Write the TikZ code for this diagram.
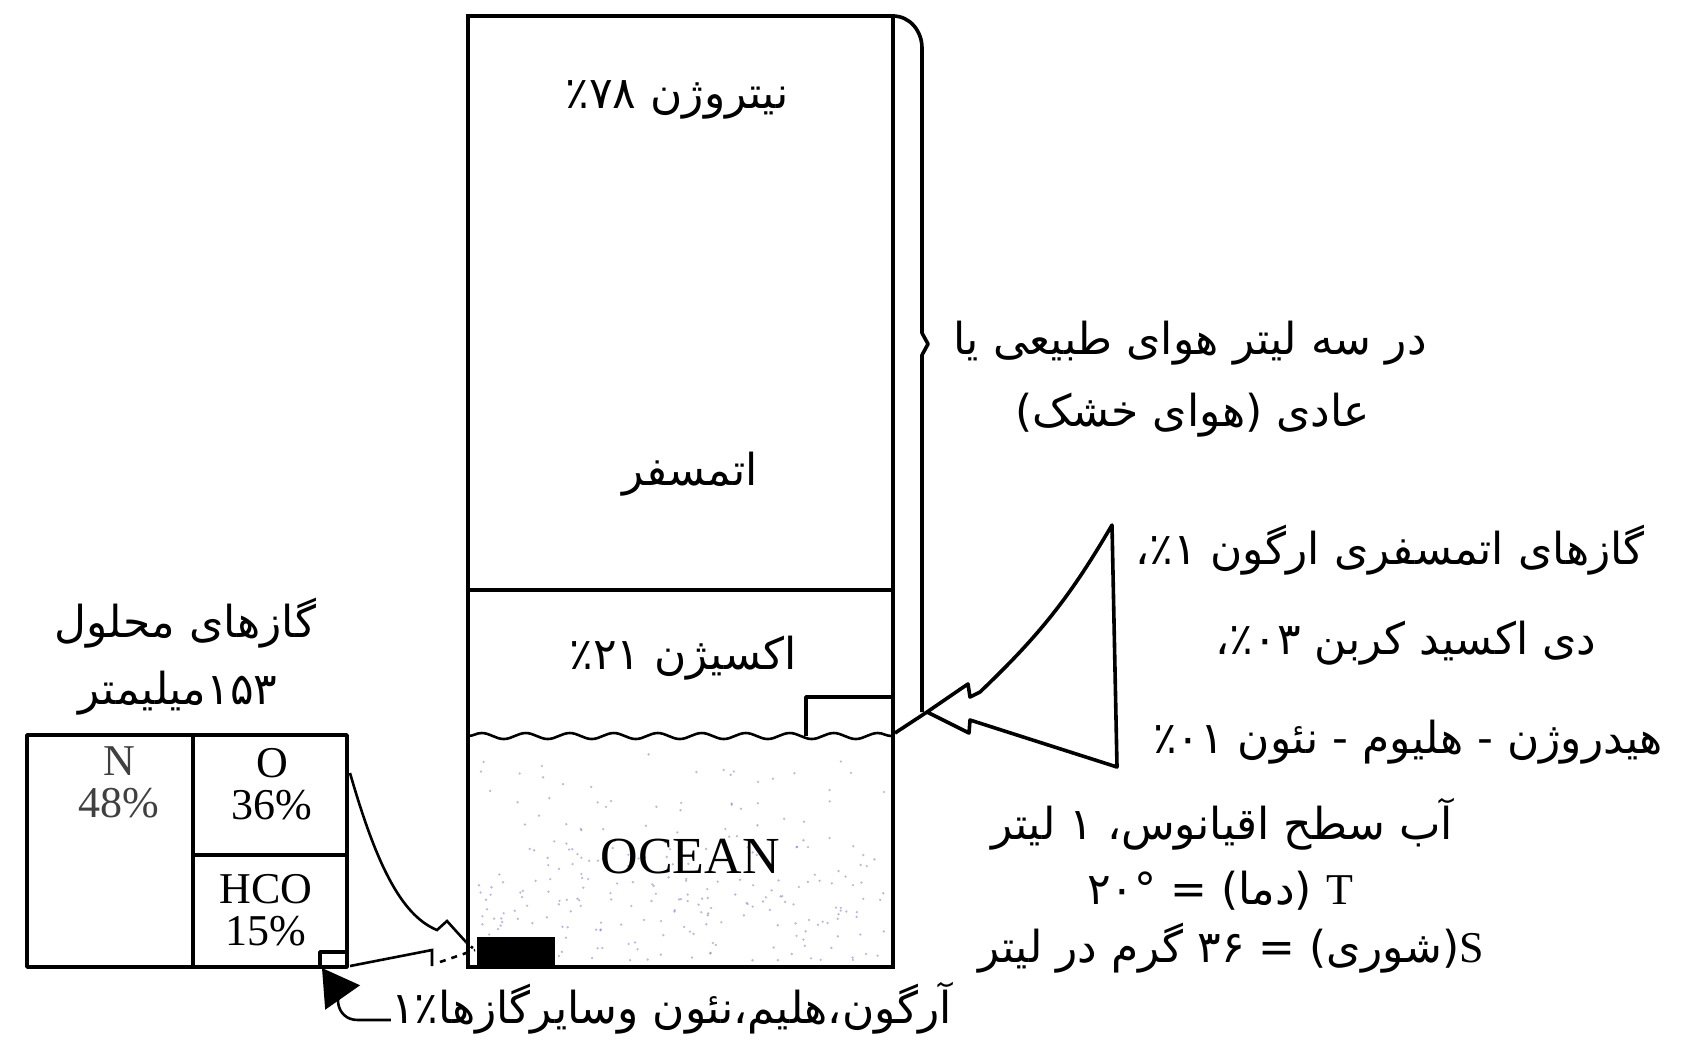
\documentclass[tikz,border=0pt]{standalone}
\usepackage{fontspec}
\setmainfont{Liberation Serif}
\newfontfamily\arabicfont[Script=Arabic]{DejaVu Sans}
\TeXXeTstate=1
\usetikzlibrary{arrows.meta,decorations.pathmorphing}
\newcommand{\fatxt}[1]{{\arabicfont\beginR #1\endR}}
\tikzset{
    wall/.style={draw, line width=2.3pt},
    part/.style={draw, line width=1.8pt, line join=round},
    fine/.style={draw, line width=1.3pt},
    wave/.style={draw, line width=1.3pt, decorate, decoration={snake, amplitude=1.5pt, segment length=22pt}},
    fa/.style={inner sep=0pt, font=\fontsize{22}{26}\selectfont},
    en/.style={inner sep=0pt, align=center, font=\fontsize{22}{21}\selectfont},
}

\begin{document}
\begin{tikzpicture}[x=0.5pt,y=-0.5pt]
    \useasboundingbox (0,0) rectangle (1690,1045);

    % column: atmosphere over ocean
    \pgfmathsetseed{11}
    \foreach \i in {1,...,260} \fill[blue!35!gray, opacity=0.4] ({476+rnd*412},{745+sqrt(rnd)*216}) circle (1.3);
    \draw[wall] (468,16) rectangle (893,967);
    \draw[wall] (468,590) -- (893,590);
    \draw[wave] (468,736) -- (893,736);
    \draw[part] (893,697) -| (806,736);
    \fill (477,937) rectangle (555,967);
    \coordinate (sed) at (475,950);

    \node[fa] (nitro) at (677,100) {\fatxt{نیتروژن ٪۷۸}};
    \node[fa] (atmos) at (690,474) {\fatxt{اتمسفر}};
    \node[fa] (oxy) at (683,658) {\fatxt{اکسیژن ٪۲۱}};
    \node[en, font=\fontsize{26}{28}\selectfont] (ocean) at (690,857) {OCEAN};

    % brace and horn
    \draw[part] (893,16) to[out=0,in=90] (922,48) -- (922,333) -- (928,344) -- (922,355) -- (922,712);
    \coordinate (tip) at (927,712);
    \draw[part] (895,733) -- (tip);
    \draw[part] (tip) -- (962,688) -- (968,684) -- (970,697) -- (980,692) to[bend right=8] (1112,525)
        -- (1117,767) -- (970,720) -- (969,733) -- cycle;

    \node[fa] (airA) at (1190,343) {\fatxt{در سه لیتر هوای طبیعی یا}};
    \node[fa] (airB) at (1193,415) {\fatxt{عادی (هوای خشک)}};
    \node[fa] (gasA) at (1390,550) {\fatxt{گازهای اتمسفری ارگون ٪۱،}};
    \node[fa] (gasB) at (1406,643) {\fatxt{دی اکسید کربن ٪۰۳،}};
    \node[fa] (gasC) at (1408,742) {\fatxt{هیدروژن - هلیوم - نئون ٪۰۱}};
    \node[fa] (sea) at (1222,824) {\fatxt{آب سطح اقیانوس، ۱ لیتر}};
    \node[fa] (temp) at (1220,891) {\fatxt{{\rmfamily T} (دما) = ۲۰°}};
    \node[fa] (sal) at (1231,948) {\fatxt{{\rmfamily S}(شوری) = ۳۶ گرم در لیتر}};

    % dissolved gases box
    \draw[part] (27,735) rectangle (347,967);
    \draw[part] (193,735) -- (193,967) (193,855) -- (347,855);
    \draw[part] (320,952) rectangle (347,967);
    \coordinate (boxR) at (350,773);
    \coordinate (boxS) at (350,966);
    \coordinate (rest) at (322,968);

    \node[fa] (solA) at (185,623) {\fatxt{گازهای محلول}};
    \node[fa] (solB) at (178,693) {\fatxt{۱۵۳میلیمتر}};
    \node[en, black!75] (nGas) at (119,782) {N\\48\%};
    \node[en] (oGas) at (272,784) {O\\36\%};
    \node[en] (hGas) at (266,910) {HCO\\15\%};

    \draw[fine] (boxR) .. controls (375,860) and (400,915) .. (437,930) -- (447,921) -- (456,931) -- (466,942);
    \draw[fine, dotted] (466,942) -- (sed);
    \draw[fine] (boxS) -- (432,950) -- (432,966);
    \draw[fine, dashed] (440,962) -- (sed);

    \node[fa, anchor=east] (others) at (952,1008) {\fatxt{آرگون،هلیم،نئون وسایرگازها٪۱}};
    \coordinate (bend) at (358,1020);
    \draw[fine, -{Triangle[length=18pt,width=21pt]}] (others.west |- bend) -- (bend) to[out=180,in=-55] (rest);
\end{tikzpicture}
\end{document}
